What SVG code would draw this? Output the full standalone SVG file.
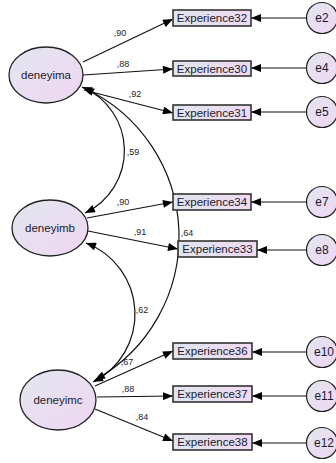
<svg xmlns="http://www.w3.org/2000/svg" width="336" height="463" viewBox="0 0 336 463">
<defs>
<linearGradient id="gl" x1="0" y1="0" x2="1" y2="1">
<stop offset="0" stop-color="#e2e6ef"/>
<stop offset="1" stop-color="#efd6f2"/>
</linearGradient>
<linearGradient id="gb" x1="0" y1="0" x2="1" y2="0">
<stop offset="0" stop-color="#dfe5ee"/>
<stop offset="1" stop-color="#f0daf2"/>
</linearGradient>
<marker id="ah" viewBox="0 0 10 8" refX="10" refY="4" markerWidth="11" markerHeight="8" markerUnits="userSpaceOnUse" orient="auto-start-reverse">
<path d="M0,0 L10,4 L0,8 Z" fill="#000"/>
</marker>
<style>
.lat{fill:url(#gl);stroke:#222;stroke-width:1.3}
.err{fill:url(#gl);stroke:#222;stroke-width:1.2}
.box{fill:url(#gb);stroke:#333;stroke-width:1.6}
.t{font-family:"Liberation Sans",Arial,sans-serif;font-size:11.5px;fill:#1a1a2e;text-anchor:middle}
.bt{font-family:"Liberation Sans",Arial,sans-serif;font-size:11.5px;fill:#1a1a2e;text-anchor:middle}
.et{font-family:"Liberation Sans",Arial,sans-serif;font-size:12px;fill:#1a1a2e;text-anchor:middle}
.lb{font-family:"Liberation Sans",Arial,sans-serif;font-size:9px;fill:#222;text-anchor:middle}
.c line,.c path{stroke:#111;stroke-width:1.2;fill:none;marker-end:url(#ah)}
.c .cov{marker-start:url(#ah)}
</style>
</defs>
<g id="connectors" class="c">
<line x1="83" y1="62" x2="173" y2="19"/>
<line x1="83" y1="75" x2="173" y2="69"/>
<line x1="84" y1="90" x2="173" y2="113"/>
<line x1="87" y1="218" x2="173" y2="202"/>
<line x1="88" y1="231" x2="178" y2="249"/>
<line x1="95" y1="386" x2="173" y2="351"/>
<line x1="97" y1="397" x2="173" y2="396"/>
<line x1="95" y1="409" x2="173" y2="441"/>
<line x1="307" y1="18" x2="251" y2="18"/>
<line x1="307" y1="68" x2="251" y2="68"/>
<line x1="307" y1="112" x2="251" y2="112"/>
<line x1="307" y1="202" x2="251" y2="202"/>
<line x1="307" y1="250" x2="257" y2="250"/>
<line x1="307" y1="352" x2="252" y2="352"/>
<line x1="307" y1="396" x2="252" y2="396"/>
<line x1="307" y1="443" x2="252" y2="443"/>
<path class="cov" d="M82,87 A69,69 0 0 1 85,213"/>
<path class="cov" d="M84,88 A164,164 0 0 1 95,380"/>
<path class="cov" d="M86,243 A76,76 0 0 1 93,382"/>
</g>
<g id="labels">
<text class="lb" x="120" y="36">,90</text>
<text class="lb" x="123" y="67">,88</text>
<text class="lb" x="135" y="97">,92</text>
<text class="lb" x="133" y="155">,59</text>
<text class="lb" x="123" y="205">,90</text>
<text class="lb" x="140" y="235">,91</text>
<text class="lb" x="187" y="236">,64</text>
<text class="lb" x="142" y="313">,62</text>
<text class="lb" x="127" y="365">,67</text>
<text class="lb" x="128" y="392">,88</text>
<text class="lb" x="142" y="420">,84</text>
</g>
<g id="deneyima"><ellipse class="lat" cx="46" cy="75" rx="37" ry="28"/><text class="t" x="46" y="79">deneyima</text></g>
<g id="deneyimb"><ellipse class="lat" cx="50" cy="228" rx="38" ry="28"/><text class="t" x="50" y="232">deneyimb</text></g>
<g id="deneyimc"><ellipse class="lat" cx="58" cy="400" rx="38" ry="30"/><text class="t" x="58" y="404">deneyimc</text></g>
<g id="Experience32"><rect class="box" x="173" y="10" width="78" height="16"/><text class="bt" x="212" y="22">Experience32</text></g>
<g id="Experience30"><rect class="box" x="173" y="61" width="78" height="15"/><text class="bt" x="212" y="72.5">Experience30</text></g>
<g id="Experience31"><rect class="box" x="173" y="105" width="78" height="15"/><text class="bt" x="212" y="116.5">Experience31</text></g>
<g id="Experience34"><rect class="box" x="173" y="194" width="78" height="16"/><text class="bt" x="212" y="206">Experience34</text></g>
<g id="Experience33"><rect class="box" x="178" y="241" width="79" height="16"/><text class="bt" x="217.5" y="253">Experience33</text></g>
<g id="Experience36"><rect class="box" x="173" y="343" width="79" height="16"/><text class="bt" x="212.5" y="355">Experience36</text></g>
<g id="Experience37"><rect class="box" x="173" y="386" width="79" height="16"/><text class="bt" x="212.5" y="398">Experience37</text></g>
<g id="Experience38"><rect class="box" x="173" y="434" width="79" height="16"/><text class="bt" x="212.5" y="446">Experience38</text></g>
<g id="e2"><circle class="err" cx="322" cy="18" r="15.5"/><text class="et" x="322" y="22">e2</text></g>
<g id="e4"><circle class="err" cx="322" cy="68" r="15.5"/><text class="et" x="322" y="72">e4</text></g>
<g id="e5"><circle class="err" cx="322" cy="112" r="15.5"/><text class="et" x="322" y="116">e5</text></g>
<g id="e7"><circle class="err" cx="322" cy="202" r="15.5"/><text class="et" x="322" y="206">e7</text></g>
<g id="e8"><circle class="err" cx="322" cy="250" r="15.5"/><text class="et" x="322" y="254">e8</text></g>
<g id="e10"><circle class="err" cx="322" cy="352" r="15.5"/><text class="et" x="324" y="356">e10</text></g>
<g id="e11"><circle class="err" cx="322" cy="396" r="15.5"/><text class="et" x="324" y="400">e11</text></g>
<g id="e12"><circle class="err" cx="322" cy="443" r="15.5"/><text class="et" x="324" y="447">e12</text></g>
</svg>
